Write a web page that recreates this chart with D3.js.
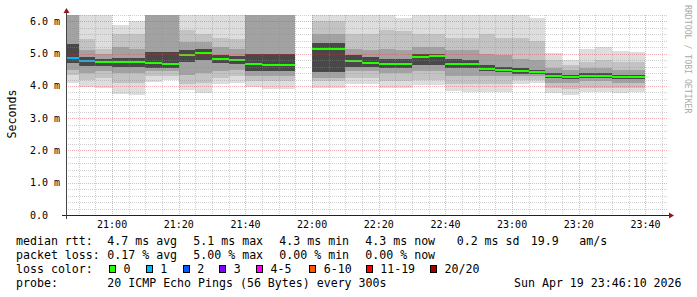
<!DOCTYPE html>
<html>
<head>
<meta charset="utf-8">
<script src="https://cdn.jsdelivr.net/npm/d3@7"></script>
<style>
  body { margin: 0; background: #fff; }
  svg { display: block; }
  text { font-family: "DejaVu Sans Mono", monospace; }
</style>
</head>
<body>
<svg id="chart" width="697" height="297"></svg>
<script>
// 5 minute slots, start time of each slot (slot 21:55 has no data)
const slots = ["20:45","20:50","20:55","21:00","21:05","21:10","21:15","21:20","21:25","21:30",
  "21:35","21:40","21:45","21:50","21:55","22:00","22:05","22:10","22:15","22:20",
  "22:25","22:30","22:35","22:40","22:45","22:50","22:55","23:00","23:05","23:10",
  "23:15","23:20","23:25","23:30","23:35"];

// median rtt in ms
const median = [4.87,4.76,4.74,4.74,4.74,4.71,4.69,4.97,5.03,4.85,4.80,4.69,4.66,4.66,null,
  5.15,5.15,4.78,4.72,4.69,4.69,4.89,4.93,4.69,4.67,4.52,4.49,4.45,4.43,4.32,4.28,4.31,4.31,4.29,4.29];
// lost pings out of 20
const loss = [1,1,0,0,0,0,0,0,0,0,0,0,0,0,null,0,0,0,0,0,0,0,0,0,0,0,0,0,0,0,0,0,0,0,0];

// smoke: ping rtt spread (ms), outer to inner
const pMin = [4.10,3.96,3.93,3.76,3.73,4.13,4.18,3.87,3.79,4.06,4.10,3.96,3.91,3.91,null,
  3.93,3.93,4.06,4.06,3.93,3.93,4.03,4.03,3.85,3.82,3.82,3.82,4.06,4.10,3.77,3.72,3.82,3.82,3.77,3.82];
const p10 = [4.34,4.20,4.25,4.10,4.10,4.30,4.30,4.05,4.10,4.25,4.30,4.15,4.15,4.15,null,
  4.15,4.15,4.25,4.25,4.15,4.15,4.20,4.20,4.05,4.05,4.05,4.05,4.20,4.20,3.95,3.90,3.95,3.95,3.95,3.95];
const p25 = [4.50,4.40,4.45,4.40,4.40,4.45,4.45,4.35,4.40,4.45,4.50,4.30,4.30,4.30,null,
  4.25,4.25,4.45,4.45,4.40,4.40,4.45,4.45,4.30,4.30,4.30,4.30,4.30,4.30,4.10,4.10,4.15,4.15,4.10,4.10];
const p40 = [4.72,4.62,4.62,4.60,4.60,4.55,4.55,4.75,4.80,4.70,4.68,4.45,4.45,4.45,null,
  4.42,4.42,4.60,4.60,4.55,4.55,4.65,4.65,4.55,4.55,4.45,4.42,4.38,4.37,4.25,4.22,4.25,4.25,4.22,4.22];
const p60 = [5.30,4.90,4.85,4.88,4.88,5.05,5.05,5.10,5.15,4.95,4.92,5.00,5.00,5.00,null,
  5.32,5.32,4.95,4.90,4.85,4.85,5.00,5.00,4.85,4.80,4.65,4.60,4.55,4.50,4.40,4.35,4.40,4.40,4.35,4.35];
const p75 = [6.30,5.10,5.00,5.20,5.15,6.30,6.30,5.35,5.35,5.20,5.15,6.25,6.25,6.25,null,
  5.60,5.60,5.15,5.10,5.15,5.10,5.20,5.20,5.10,5.10,5.00,4.95,4.85,4.80,4.55,4.50,4.55,4.55,4.50,4.50];
const p90 = [6.60,5.45,5.15,5.60,5.60,6.50,6.50,5.75,5.60,5.50,5.45,6.40,6.40,6.40,null,
  6.00,6.00,5.60,5.60,5.75,5.70,5.60,5.60,5.50,5.50,5.60,5.50,5.50,5.40,4.80,4.65,4.75,4.80,4.75,4.75];
const pMax = [6.60,6.40,6.40,5.90,6.00,6.60,6.60,6.30,6.30,6.30,6.30,6.70,6.70,6.70,null,
  6.40,6.40,6.30,6.30,6.30,6.10,6.30,6.30,6.30,6.30,6.30,6.30,6.30,6.10,5.01,4.80,5.14,5.22,5.08,5.04];

const yTicks = [0, 1, 2, 3, 4, 5, 6];
const lossLegend = [["0","#26ff00"],["1","#00b8ff"],["2","#0059ff"],["3","#7e00ff"],
  ["4-5","#ff00ff"],["6-10","#ff5500"],["11-19","#ff0000"],["20/20","#a00000"]];

const svg = d3.select('#chart');
const plotLeft = 66, plotTop = 15, pw = 600, ph = 200;

const parseT = (s) => { const p = s.split(':'); return new Date(2026, 3, 19, +p[0], +p[1], 0); };
const tEnd = new Date(2026, 3, 19, 23, 46, 10);
const tStart = new Date(tEnd.getTime() - 3 * 3600 * 1000);

const x = d3.scaleTime().domain([tStart, tEnd]).range([plotLeft, plotLeft + pw]);
const y = d3.scaleLinear().domain([0, 6.2]).range([plotTop + ph, plotTop]);

svg.append('rect').attr('width', 697).attr('height', 297).attr('fill', '#fff');

svg.append('clipPath').attr('id', 'plot')
  .append('rect').attr('x', plotLeft).attr('y', plotTop).attr('width', pw).attr('height', ph);

// indexes of slots with data
const idx = d3.range(slots.length).filter(i => median[i] != null);
const x0 = i => x(parseT(slots[i]));
const x1 = i => x(d3.timeMinute.offset(parseT(slots[i]), 5));

// smoke
const g = svg.append('g').attr('clip-path', 'url(#plot)');
const levels = [[pMin, pMax, '#dddddd'], [p10, p90, '#c3c3c3'], [p25, p75, '#a2a2a2'], [p40, p60, '#484848']];
levels.forEach(([lo, hi, col]) => {
  g.selectAll(null).data(idx).enter().append('rect')
    .attr('x', x0)
    .attr('width', i => x1(i) - x0(i))
    .attr('y', i => y(hi[i]))
    .attr('height', i => y(lo[i]) - y(hi[i]))
    .attr('fill', col)
    .attr('shape-rendering', 'crispEdges');
});

// median line coloured by loss
g.selectAll(null).data(idx).enter().append('rect')
  .attr('x', x0)
  .attr('width', i => x1(i) - x0(i))
  .attr('y', i => y(median[i]) - 1)
  .attr('height', 2)
  .attr('fill', i => lossLegend[Math.min(loss[i], 7)][1])
  .attr('shape-rendering', 'crispEdges');

// grid on top of smoke
const grid = svg.append('g').attr('stroke-dasharray', '1,1').attr('shape-rendering', 'crispEdges');
const minorY = d3.range(1, 32).map(k => k * 0.2).filter(v => Math.abs(v - Math.round(v)) > 0.01);
grid.selectAll(null).data(minorY).enter().append('line')
  .attr('x1', plotLeft).attr('x2', plotLeft + pw + 2)
  .attr('y1', d => Math.round(y(d)) + 0.5).attr('y2', d => Math.round(y(d)) + 0.5)
  .attr('stroke', 'rgba(140,140,140,0.4)');
const minorX = d3.timeMinute.every(5).range(tStart, tEnd).filter(t => t.getMinutes() % 20 !== 0);
grid.selectAll(null).data(minorX).enter().append('line')
  .attr('x1', d => Math.round(x(d)) + 0.5).attr('x2', d => Math.round(x(d)) + 0.5)
  .attr('y1', plotTop).attr('y2', plotTop + ph)
  .attr('stroke', 'rgba(140,140,140,0.4)');
grid.selectAll(null).data(yTicks.slice(1)).enter().append('line')
  .attr('x1', plotLeft).attr('x2', plotLeft + pw + 2)
  .attr('y1', d => Math.round(y(d)) + 0.5).attr('y2', d => Math.round(y(d)) + 0.5)
  .attr('stroke', 'rgba(215,60,60,0.4)');
const majorX = d3.timeMinute.every(20).range(tStart, tEnd);
grid.selectAll(null).data(majorX).enter().append('line')
  .attr('x1', d => Math.round(x(d)) + 0.5).attr('x2', d => Math.round(x(d)) + 0.5)
  .attr('y1', plotTop).attr('y2', plotTop + ph)
  .attr('stroke', 'rgba(215,60,60,0.4)');

// axes
svg.append('line').attr('x1', plotLeft - 4).attr('x2', plotLeft + pw + 3)
  .attr('y1', plotTop + ph + 0.5).attr('y2', plotTop + ph + 0.5).attr('stroke', '#222');
svg.append('line').attr('x1', plotLeft + 0.5).attr('x2', plotLeft + 0.5)
  .attr('y1', plotTop + ph + 4).attr('y2', plotTop - 3).attr('stroke', '#444');
svg.append('path').attr('d', `M${plotLeft + pw + 3},${plotTop + ph - 2.5}L${plotLeft + pw + 8},${plotTop + ph + 0.5}L${plotLeft + pw + 3},${plotTop + ph + 3.5}Z`)
  .attr('fill', '#8b1a1a');
svg.append('path').attr('d', `M${plotLeft - 2.5},${plotTop - 2}L${plotLeft + 0.5},${plotTop - 7}L${plotLeft + 3.5},${plotTop - 2}Z`)
  .attr('fill', '#8b1a1a');

svg.append('g').selectAll(null).data(yTicks).enter().append('text')
  .attr('x', 30).attr('y', d => y(d) + 3.5)
  .attr('font-size', 10)
  .text(d => d === 0 ? '0.0' : d3.format('.1f')(d) + ' m');

svg.append('g').selectAll(null).data(majorX).enter().append('text')
  .attr('x', d => x(d)).attr('y', 227.5)
  .attr('text-anchor', 'middle').attr('font-size', 10)
  .text(d3.timeFormat('%H:%M'));

svg.append('text').attr('transform', 'translate(15.5,114) rotate(-90)')
  .attr('text-anchor', 'middle').attr('font-size', 11.6).text('Seconds');

svg.append('text').attr('transform', 'translate(685,5) rotate(90)')
  .attr('font-size', 8.2).attr('fill', '#aaa').text('RRDTOOL / TOBI OETIKER');

// legend
const fs = 11.6;
const legendRows = [
  [245, [[16, 'median rtt:'], [107.3, '4.7 ms avg'], [193.3, '5.1 ms max'], [279.3, '4.3 ms min'],
    [365.3, '4.3 ms now'], [456.7, '0.2 ms sd'], [530.7, '19.9'], [579.3, 'am/s']]],
  [259, [[16, 'packet loss:'], [107.3, '0.17 % avg'], [193.3, '5.00 % max'], [279.3, '0.00 % min'],
    [365.3, '0.00 % now']]],
  [272.8, [[16, 'loss color:']]],
  [286.5, [[16, 'probe:'], [107.3, '20 ICMP Echo Pings (56 Bytes) every 300s'], [514, 'Sun Apr 19 23:46:10 2026']]]
];
legendRows.forEach(([ly, items]) => {
  items.forEach(([lx, t]) => {
    svg.append('text').attr('x', lx).attr('y', ly).attr('font-size', fs)
      .style('white-space', 'pre').text(t);
  });
});

const swatchX = [109, 145.7, 182.7, 219.3, 256, 309.3, 365.7, 430];
lossLegend.forEach(([lab, col], k) => {
  svg.append('rect').attr('x', Math.round(swatchX[k]) + 0.5).attr('y', 265.5)
    .attr('width', 6).attr('height', 7).attr('fill', col).attr('stroke', '#000');
  svg.append('text').attr('x', swatchX[k] + 14.5).attr('y', 272.8).attr('font-size', fs).text(lab);
});
</script>
</body>
</html>
